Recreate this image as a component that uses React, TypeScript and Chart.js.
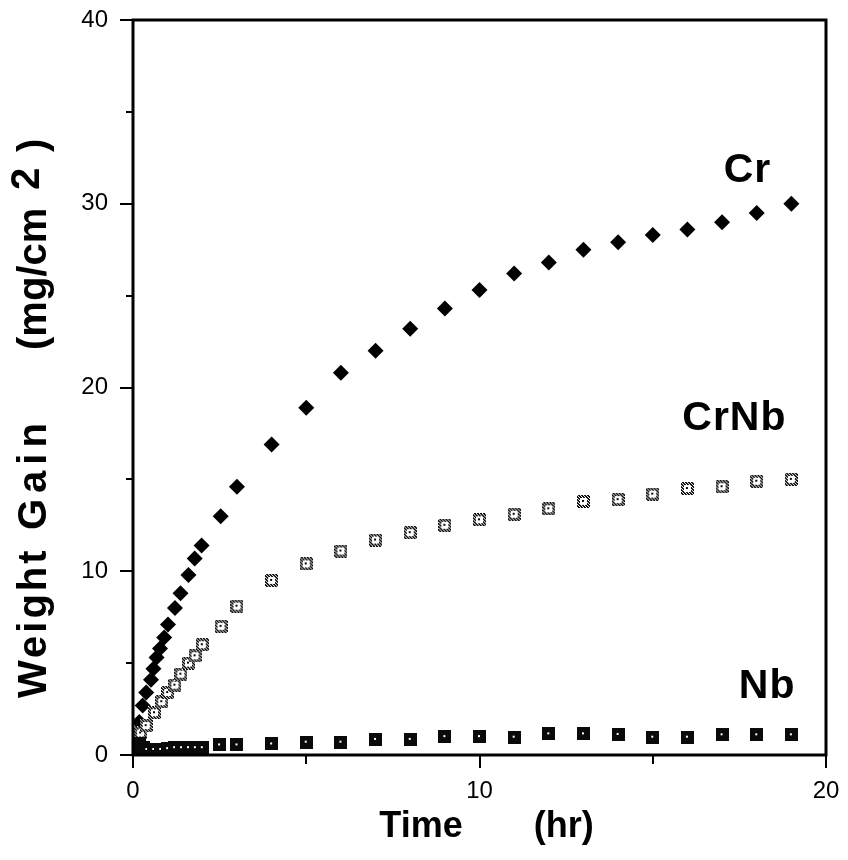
import React, { useEffect, useRef } from "react";
import { Chart, registerables } from "chart.js";

Chart.register(...registerables);

// ---- Data ----
const crTime = [0, 0.08, 0.18, 0.28, 0.38, 0.52, 0.59, 0.68, 0.78, 0.9, 1.01, 1.21, 1.37, 1.6, 1.78, 1.98, 2.53, 3, 4, 5, 6, 7, 8, 9, 10, 11, 12, 13, 14, 15, 16, 17, 18, 19];
const crGain = [0.2, 1.0, 1.8, 2.7, 3.4, 4.1, 4.7, 5.3, 5.8, 6.4, 7.1, 8.0, 8.8, 9.8, 10.7, 11.4, 13.0, 14.6, 16.9, 18.9, 20.8, 22.0, 23.2, 24.3, 25.3, 26.2, 26.8, 27.5, 27.9, 28.3, 28.6, 29.0, 29.5, 30.0];

const crnbTime = [0, 0.1, 0.22, 0.38, 0.62, 0.83, 1.0, 1.21, 1.38, 1.6, 1.79, 2.0, 2.54, 3, 4, 5, 6, 7, 8, 9, 10, 11, 12, 13, 14, 15, 16, 17, 18, 19];
const crnbGain = [0.2, 0.6, 1.2, 1.6, 2.3, 2.9, 3.4, 3.8, 4.4, 5.0, 5.4, 6.0, 7.0, 8.1, 9.5, 10.4, 11.1, 11.7, 12.1, 12.5, 12.8, 13.1, 13.4, 13.8, 13.9, 14.2, 14.5, 14.6, 14.9, 15.0];

const nbTime = [0, 0.1, 0.2, 0.3, 0.4, 0.6, 0.8, 1.0, 1.2, 1.4, 1.6, 1.8, 2.0, 2.5, 3, 4, 5, 6, 7, 8, 9, 10, 11, 12, 13, 14, 15, 16, 17, 18, 19];
const nbGain = [0.1, 0.4, 0.6, 0.4, 0.3, 0.3, 0.3, 0.35, 0.4, 0.4, 0.4, 0.4, 0.4, 0.55, 0.55, 0.6, 0.7, 0.7, 0.85, 0.85, 1.0, 1.0, 0.97, 1.15, 1.15, 1.12, 0.97, 0.97, 1.1, 1.1, 1.1];

const seriesNames = ["Cr", "CrNb", "Nb"];
// label anchor in data units (right edge x, baseline y)
const labelX = [18.42, 18.86, 19.12];
const labelY = [31.2, 17.7, 3.1];

const xMin = 0;
const xMax = 20;
const yMin = 0;
const yMax = 40;
const xMajorTicks = [0, 10, 20];
const xMinorTicks = [5, 15];
const yMajorTicks = [0, 10, 20, 30, 40];
const yMinorTicks = [5, 15, 25, 35];

const xTitleParts = ["Time", "(hr)"];
const yTitleParts = ["Weight", "Gain", "(mg/cm", "2", ")"];

const FONT = "'Liberation Sans', Arial, Helvetica, sans-serif";

function makeDottedSquare(size: number): HTMLCanvasElement {
  const c = document.createElement("canvas");
  c.width = size;
  c.height = size;
  const g = c.getContext("2d")!;
  g.fillStyle = "#ffffff";
  g.fillRect(0, 0, size, size);
  g.fillStyle = "#0a0a0a";
  for (let x = 0; x < size; x++) {
    for (let y = 0; y < size; y++) {
      const border = x < 3 || y < 3 || x >= size - 3 || y >= size - 3;
      if (border && (x * 2 + y) % 3 !== 0) g.fillRect(x, y, 1, 1);
    }
  }
  const m = Math.floor(size / 2) - 1;
  g.fillRect(m, m, 2, 2);
  return c;
}

function makeSolidSquare(size: number): HTMLCanvasElement {
  const c = document.createElement("canvas");
  c.width = size;
  c.height = size;
  const g = c.getContext("2d")!;
  g.fillStyle = "#0a0a0a";
  g.fillRect(0, 0, size, size);
  g.fillStyle = "#ffffff";
  const m = Math.floor(size / 2) - 1;
  g.fillRect(m, m, 2, 2);
  return c;
}

const decorPlugin = {
  id: "decor",
  afterDatasetsDraw(chart: any) {
    const { ctx, chartArea, scales } = chart;
    const xs = scales.x;
    const ys = scales.y;
    ctx.save();
    ctx.strokeStyle = "#000";
    ctx.lineWidth = 3;
    ctx.strokeRect(chartArea.left, chartArea.top, chartArea.right - chartArea.left, chartArea.bottom - chartArea.top);
    ctx.lineWidth = 2;
    ctx.beginPath();
    yMajorTicks.forEach((v) => {
      const p = Math.round(ys.getPixelForValue(v));
      ctx.moveTo(chartArea.left, p);
      ctx.lineTo(chartArea.left - 13, p);
    });
    yMinorTicks.forEach((v) => {
      const p = Math.round(ys.getPixelForValue(v));
      ctx.moveTo(chartArea.left, p);
      ctx.lineTo(chartArea.left - 7, p);
    });
    xMajorTicks.forEach((v) => {
      const p = Math.round(xs.getPixelForValue(v));
      ctx.moveTo(p, chartArea.bottom);
      ctx.lineTo(p, chartArea.bottom + 13);
    });
    xMinorTicks.forEach((v) => {
      const p = Math.round(xs.getPixelForValue(v));
      ctx.moveTo(p, chartArea.bottom);
      ctx.lineTo(p, chartArea.bottom + 9);
    });
    ctx.stroke();

    // series labels
    ctx.fillStyle = "#000";
    ctx.font = `bold 41px ${FONT}`;
    ctx.textAlign = "right";
    ctx.textBaseline = "alphabetic";
    (ctx as any).letterSpacing = "1px";
    seriesNames.forEach((name, i) => {
      ctx.fillText(name, xs.getPixelForValue(labelX[i]), ys.getPixelForValue(labelY[i]));
    });
    (ctx as any).letterSpacing = "0px";

    // x title
    ctx.font = `bold 36px ${FONT}`;
    ctx.textAlign = "left";
    const cx = (chartArea.left + chartArea.right) / 2 + 7;
    const w0 = ctx.measureText(xTitleParts[0]).width;
    const w1 = ctx.measureText(xTitleParts[1]).width;
    const gap = 71;
    const total = w0 + gap + w1;
    const xStart = cx - total / 2;
    ctx.fillText(xTitleParts[0], xStart, 837);
    ctx.fillText(xTitleParts[1], xStart + w0 + gap, 837);

    // y title (rotated); each part placed by where it starts along the run
    const partStart = [698, 530, 350, 190, 152];
    const partSpacing = [3, 6, 0, 0, 0];
    const raise = [0, 0, 0, 7, 0];
    ctx.font = `bold 40px ${FONT}`;
    yTitleParts.forEach((part, i) => {
      ctx.save();
      ctx.translate(46, partStart[i]);
      ctx.rotate(-Math.PI / 2);
      (ctx as any).letterSpacing = `${partSpacing[i]}px`;
      ctx.fillText(part, 0, -raise[i]);
      ctx.restore();
    });
    ctx.restore();
  },
};

function zeroPad(scale: any) {
  scale.paddingTop = 0;
  scale.paddingBottom = 0;
  scale.paddingLeft = 0;
  scale.paddingRight = 0;
}

export default function App() {
  const canvasRef = useRef<HTMLCanvasElement | null>(null);

  useEffect(() => {
    const canvas = canvasRef.current;
    if (!canvas) return;
    const dottedSq = makeDottedSquare(13);
    const solidSq = makeSolidSquare(13);

    const chart = new Chart(canvas, {
      type: "scatter",
      data: {
        datasets: [
          {
            label: "Nb",
            data: nbTime.map((t, i) => ({ x: t, y: nbGain[i] })),
            pointStyle: solidSq as any,
            pointRadius: 6.5,
            showLine: false,
          },
          {
            label: "CrNb",
            data: crnbTime.map((t, i) => ({ x: t, y: crnbGain[i] })),
            pointStyle: dottedSq as any,
            pointRadius: 6.5,
            showLine: false,
          },
          {
            label: "Cr",
            data: crTime.map((t, i) => ({ x: t, y: crGain[i] })),
            pointStyle: "rectRot",
            pointRadius: 8,
            backgroundColor: "#000",
            borderColor: "#000",
            borderWidth: 0,
            showLine: false,
          },
        ],
      },
      options: {
        responsive: false,
        animation: false,
        layout: { padding: { left: 0, top: 20, right: 22, bottom: 0 } },
        plugins: {
          legend: { display: false },
          tooltip: { enabled: false },
        },
        scales: {
          x: {
            type: "linear",
            min: xMin,
            max: xMax,
            grid: { display: false, drawTicks: false },
            border: { display: false },
            ticks: {
              stepSize: 10,
              padding: 22,
              color: "#000",
              font: { family: FONT, size: 24 },
              maxRotation: 0,
            },
            afterFit: (scale: any) => {
              scale.height = 105;
              zeroPad(scale);
            },
          },
          y: {
            type: "linear",
            min: yMin,
            max: yMax,
            grid: { display: false, drawTicks: false },
            border: { display: false },
            ticks: {
              stepSize: 10,
              padding: 25,
              color: "#000",
              font: { family: FONT, size: 24 },
            },
            afterFit: (scale: any) => {
              scale.width = 133;
              zeroPad(scale);
            },
          },
        },
      },
      plugins: [decorPlugin],
    });
    return () => chart.destroy();
  }, []);

  return (
    <div style={{ position: "absolute", left: 0, top: 0, width: 848, height: 860, background: "#fff" }}>
      <canvas ref={canvasRef} width={848} height={860} style={{ display: "block" }} />
    </div>
  );
}
